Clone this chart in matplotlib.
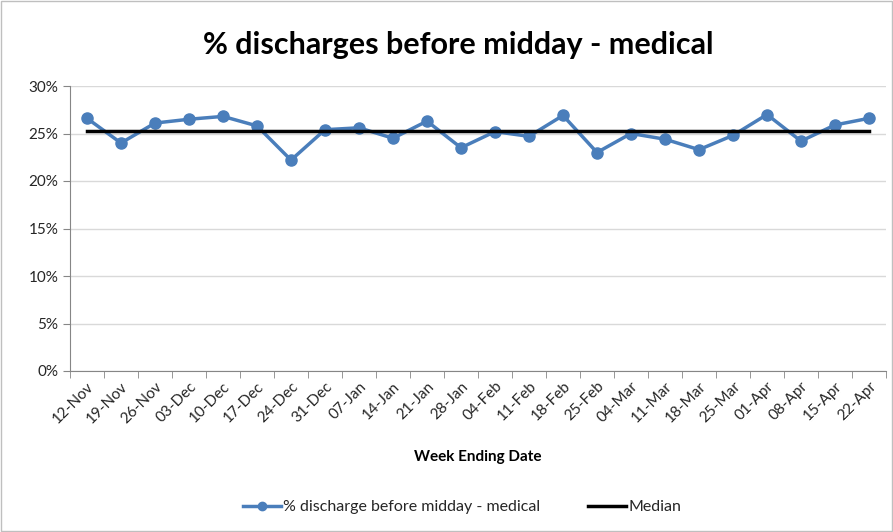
import numpy as np
import matplotlib.pyplot as plt
from matplotlib.ticker import FuncFormatter, MultipleLocator

plt.rcParams['font.family'] = ['Lato', 'DejaVu Sans']

weeks = ['12-Nov', '19-Nov', '26-Nov', '03-Dec', '10-Dec', '17-Dec', '24-Dec', '31-Dec',
         '07-Jan', '14-Jan', '21-Jan', '28-Jan', '04-Feb', '11-Feb', '18-Feb', '25-Feb',
         '04-Mar', '11-Mar', '18-Mar', '25-Mar', '01-Apr', '08-Apr', '15-Apr', '22-Apr']
pct_discharge = [26.6, 24.0, 26.1, 26.5, 26.8, 25.8, 22.2, 25.4,
                 25.6, 24.5, 26.3, 23.5, 25.2, 24.7, 26.9, 23.0,
                 25.0, 24.4, 23.3, 24.8, 27.0, 24.2, 25.9, 26.6]
median_val = np.median(pct_discharge)

W, H = 893, 532
fig = plt.figure(figsize=(W / 100, H / 100), dpi=100)
ax = fig.add_axes([70 / W, (H - 371) / H, (886 - 70) / W, (371 - 86) / H])

x = np.arange(len(weeks))
ax.plot(x, pct_discharge, color='#4a7ebb', lw=2.5, marker='o', ms=8,
        label='% discharge before midday - medical', zorder=3)
ax.plot(x, [median_val] * len(x), color='black', lw=2.5, label='Median', zorder=4)

ax.set_xlim(-0.5, len(weeks) - 0.5)
ax.set_ylim(0, 30)
ax.yaxis.set_major_locator(MultipleLocator(5))
ax.yaxis.set_major_formatter(FuncFormatter(lambda v, p: f'{v:.0f}%'))
ax.grid(axis='y', color='#d9d9d9', lw=1)
ax.set_axisbelow(True)

ax.set_xticks(x)
ax.set_xticklabels(weeks, rotation=45, ha='right', rotation_mode='anchor', fontsize=11)
ax.set_xticks(np.arange(-0.5, len(weeks)), minor=True)
ax.tick_params(axis='x', which='major', length=0, pad=6, labelcolor='#262626')
ax.tick_params(axis='x', which='minor', length=5, color='#868686')
ax.tick_params(axis='y', length=5, color='#868686', labelsize=11, labelcolor='#262626')

for s in ['top', 'right']:
    ax.spines[s].set_visible(False)
ax.spines['left'].set_color('#868686')
ax.spines['bottom'].set_color('#868686')

fig.text(458 / W, (H - 45) / H, '% discharges before midday - medical', ha='center', va='center',
         fontsize=22, fontweight='bold')
fig.text(478 / W, (H - 457) / H, 'Week Ending Date', ha='center', va='center',
         fontsize=11, fontweight='bold')

leg = fig.legend(loc='center', bbox_to_anchor=(462 / W, (H - 507) / H), ncol=2, frameon=False,
                 fontsize=11.5, handlelength=2.4, handletextpad=0.1, columnspacing=3.0,
                 markerscale=0.75)
for t in leg.get_texts():
    t.set_color('#262626')

fig.patches.append(plt.Rectangle((1 / W, 1 / H), 1 - 2 / W, 1 - 2 / H, transform=fig.transFigure,
                                 fill=False, edgecolor='#bfbfbf', lw=1))

fig.savefig('out.png', dpi=100)
